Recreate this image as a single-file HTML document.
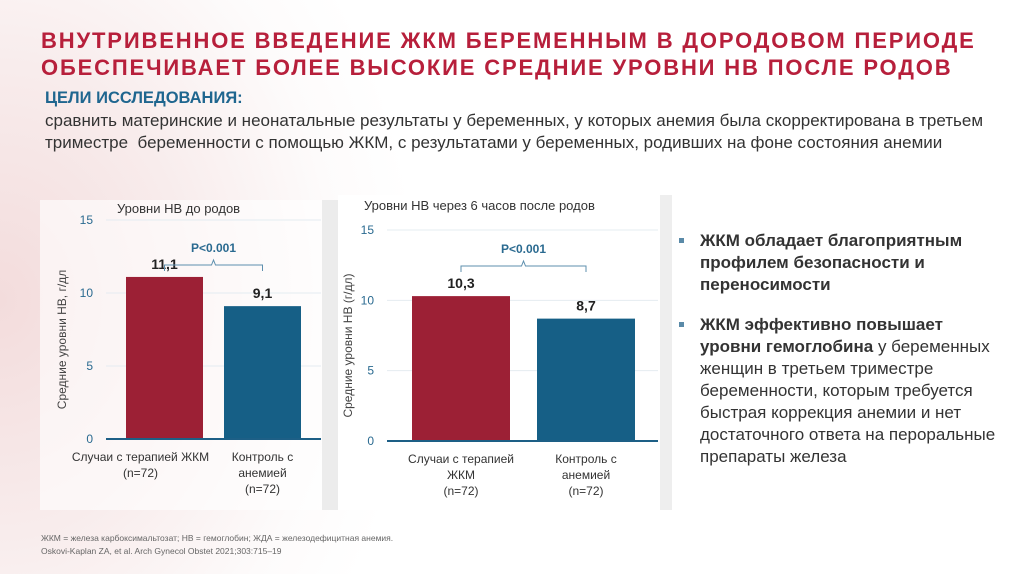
<!DOCTYPE html>
<html><head><meta charset="utf-8"><style>
html,body{margin:0;padding:0}
body{width:1024px;height:574px;overflow:hidden;position:relative;font-family:"Liberation Sans",sans-serif;
background:radial-gradient(ellipse 420px 520px at 0px 300px,#f3dcdc 0%,#f8ecec 45%,#fdfbfb 80%,#ffffff 100%);}
.t{position:absolute;white-space:nowrap}
#title{left:41px;top:27px;font-weight:bold;font-size:22px;line-height:27px;color:#b71f3b;letter-spacing:1.85px}
#goal-h{left:45px;top:89px;font-weight:bold;font-size:16.5px;color:#1f668f}
#goal{left:45px;top:110px;font-size:17px;line-height:22px;color:#333}
#bul{left:678px;top:230px;width:322px;font-size:17px;line-height:22px;color:#333;white-space:normal}
#bul p{margin:0 0 18px 22px;position:relative}
#bul p:before{content:"";position:absolute;left:-21px;top:8px;width:5px;height:5px;background:#5a8aa8}
#foot{left:41px;top:532px;font-size:8.5px;line-height:13px;color:#666}
svg{position:absolute;left:0;top:0}
</style></head><body>
<div class="t" id="title">ВНУТРИВЕННОЕ ВВЕДЕНИЕ ЖКМ БЕРЕМЕННЫМ В ДОРОДОВОМ ПЕРИОДЕ<br>ОБЕСПЕЧИВАЕТ БОЛЕЕ ВЫСОКИЕ СРЕДНИЕ УРОВНИ НВ ПОСЛЕ РОДОВ</div>
<div class="t" id="goal-h">ЦЕЛИ ИССЛЕДОВАНИЯ:</div>
<div class="t" id="goal">сравнить материнские и неонатальные результаты у беременных, у которых анемия была скорректирована в третьем<br>триместре&nbsp; беременности с помощью ЖКМ, с результатами у беременных, родивших на фоне состояния анемии</div>
<svg width="1024" height="574" id="charts">
<rect x="40" y="200" width="282" height="310" fill="#fff" opacity="0.6"/>
<rect x="322" y="200" width="16" height="310" fill="#ececec"/>
<rect x="338" y="195" width="322" height="315" fill="#fff"/>
<rect x="660" y="195" width="12" height="315" fill="#eeeeee"/>
</svg>
<div class="t" id="bul">
<p><b>ЖКМ обладает благоприятным профилем безопасности и переносимости</b></p>
<p><b>ЖКМ эффективно повышает уровни гемоглобина</b> у беременных женщин в третьем триместре беременности, которым требуется быстрая коррекция анемии и нет достаточного ответа на пероральные препараты железа</p>
</div>
<div class="t" id="foot">ЖКМ = железа карбоксимальтозат; НВ = гемоглобин; ЖДА = железодефицитная анемия.<br>Oskovi-Kaplan ZA, et al. Arch Gynecol Obstet 2021;303:715–19</div>
<script>
const categories1 = ["Случаи с терапией ЖКМ|(n=72)", "Контроль с|анемией|(n=72)"];
const values1 = [11.1, 9.1];
const labels1 = ["11,1", "9,1"];
const categories2 = ["Случаи с терапией|ЖКМ|(n=72)", "Контроль с|анемией|(n=72)"];
const values2 = [10.3, 8.7];
const labels2 = ["10,3", "8,7"];
const ticks = [0, 5, 10, 15];
const colors = ["#9c2035", "#165f86"];
const NS = "http://www.w3.org/2000/svg";
const svg = document.getElementById("charts");
function el(tag, attrs, text){const e=document.createElementNS(NS,tag);for(const k in attrs)e.setAttribute(k,attrs[k]);if(text!==undefined)e.textContent=text;svg.appendChild(e);return e;}
function chart(cfg){
  const y = v => cfg.y0 - (cfg.y0 - cfg.y15) * v / 15;
  const t = el("text",{x:cfg.titleX,y:cfg.titleY,"font-size":13,fill:"#333","font-family":"Liberation Sans"},cfg.title);
  
  
  ticks.forEach(v=>{
    if(v>0){const g=el("line",{x1:cfg.x0,x2:cfg.x1,y1:y(v),y2:y(v),stroke:"#e4ecf1","stroke-width":1});
      
      }
    const tl=el("text",{x:cfg.x0-13,y:y(v)+4,"font-size":12,fill:"#2a6a90","text-anchor":"end"},v);
    
    
  });
  const yt=el("text",{transform:`translate(${cfg.ytX},${(cfg.y0+cfg.y15)/2+10}) rotate(-90)`,"font-size":12,fill:"#444","text-anchor":"middle"},cfg.ytitle);
  
  
  const cx=[];
  cfg.values.forEach((v,i)=>{
    const bx=cfg.barX[i];
    const b=el("rect",{x:bx,y:y(v),width:cfg.bw,height:cfg.y0-y(v),fill:colors[i]});
    
    
    const c=bx+cfg.bw/2; cx.push(c);
    const lb=el("text",{x:c,y:y(v)-8,"font-size":14,"font-weight":"bold",fill:"#222","text-anchor":"middle"},cfg.labels[i]);
    
    
    cfg.cats[i].split("|").forEach((s,j)=>{
      const ct=el("text",{x:c+(cfg.catDx?cfg.catDx[i]:0),y:cfg.y0+22+j*16,"font-size":12,fill:"#333","text-anchor":"middle"},s);
      
      
    });
  });
  const ax=el("line",{x1:cfg.x0,x2:cfg.x1,y1:cfg.y0,y2:cfg.y0,stroke:"#1d5f86","stroke-width":2});
  
  
  const by=cfg.brY, mid=(cx[0]+cx[1])/2;
  const br=el("path",{d:`M${cx[0]} ${by+6}V${by}H${mid-2}l2 -5l2 5H${cx[1]}V${by+6}`,fill:"none",stroke:"#5d8fae","stroke-width":1});
  
  
  const p=el("text",{x:mid,y:by-13,"font-size":12,"font-weight":"bold",fill:"#2a6a90","text-anchor":"middle"},"P<0.001");
  
  
}
chart({id:"chart1",title:"Уровни НВ до родов",titleX:117,titleY:213,x0:106,x1:321,y0:439,y15:220,ytX:66,
  ytitle:"Средние уровни НВ, г/дл",values:values1,labels:labels1,cats:categories1,barX:[126,224],bw:77,brY:265,catDx:[-24,0]});
chart({id:"chart2",title:"Уровни НВ через 6 часов после родов",titleX:364,titleY:210,x0:387,x1:658,y0:441,y15:230,ytX:352,
  ytitle:"Средние уровни НВ (г/дл)",values:values2,labels:labels2,cats:categories2,barX:[412,537],bw:98,brY:266});
</script>
</body></html>
